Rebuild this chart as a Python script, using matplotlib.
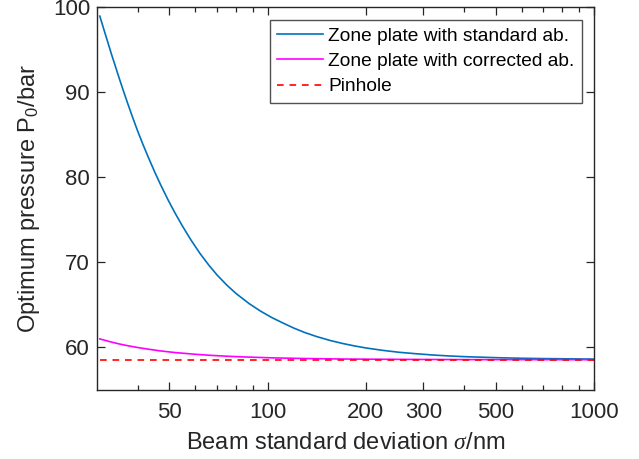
import matplotlib
matplotlib.use("Agg")
import matplotlib.pyplot as plt
from matplotlib.ticker import FixedLocator, FixedFormatter, NullFormatter

plt.rcParams['font.family'] = ['Liberation Sans', 'DejaVu Sans']
plt.rcParams['mathtext.fontset'] = 'custom'
plt.rcParams['mathtext.rm'] = 'Liberation Sans'
plt.rcParams['mathtext.it'] = 'Liberation Serif:italic'

# Beam standard deviation (nm) and optimum pressure (bar)
sigma_std = [30.6, 31.5, 32.3, 33.2, 34.0, 35.0, 36.0, 37.2, 38.5, 40.0, 41.5,
             43.0, 45.0, 47.0, 49.6, 52.0, 54.8, 58.0, 62.0, 66.0, 70.0, 75.0,
             80.0, 87.9, 95.0, 103, 111, 120, 130, 141, 155, 170, 185, 200, 225,
             253, 285, 321, 360, 406, 455, 511, 600, 700, 850, 1000]
p_std = [98.93, 97.34, 95.99, 94.49, 93.27, 91.76, 90.34, 88.74, 87.12, 85.39,
         83.84, 82.42, 80.68, 79.11, 77.29, 75.81, 74.27, 72.72, 71.06, 69.68,
         68.51, 67.32, 66.34, 65.13, 64.28, 63.51, 62.90, 62.29, 61.75, 61.29,
         60.83, 60.46, 60.17, 59.94, 59.66, 59.43, 59.26, 59.11, 59.00, 58.91,
         58.85, 58.79, 58.73, 58.69, 58.66, 58.63]

sigma_cor = [30.6, 33, 35, 37.3, 40, 43, 47, 52, 59.5, 67, 75, 85, 105, 130,
             170, 250, 400, 1000]
p_cor = [61.00, 60.66, 60.42, 60.20, 59.99, 59.80, 59.59, 59.40, 59.21, 59.07,
         58.97, 58.88, 58.77, 58.70, 58.64, 58.60, 58.57, 58.56]

sigma_pin = [30.6, 1000]
p_pin = [58.56, 58.56]

x_major = [50, 100, 200, 300, 500, 1000]
x_major_labels = ['50', '100', '200', '300', '500', '1000']
x_minor = [40, 60, 70, 80, 90, 400, 600, 700, 800, 900]
y_major = [60, 70, 80, 90, 100]

fig = plt.figure(figsize=(6.39, 4.59), dpi=100)
ax = fig.add_axes([97 / 639, 1 - 390 / 459, (594 - 97) / 639, (390 - 7) / 459])

edge = '#262626'
ax.plot(sigma_std, p_std, color='#0072BD', lw=1.2, label='Zone plate with standard ab.')
ax.plot(sigma_cor, p_cor, color='#FF00FF', lw=1.2, label='Zone plate with corrected ab.')
ax.plot(sigma_pin, p_pin, color='#FF0000', lw=1.2, ls=(0, (4, 3.5)), label='Pinhole')

ax.set_xscale('log')
ax.set_xlim(30, 1000)
ax.set_ylim(55, 100)
ax.xaxis.set_major_locator(FixedLocator(x_major))
ax.xaxis.set_major_formatter(FixedFormatter(x_major_labels))
ax.xaxis.set_minor_locator(FixedLocator(x_minor))
ax.xaxis.set_minor_formatter(NullFormatter())
ax.yaxis.set_major_locator(FixedLocator(y_major))

for s in ax.spines.values():
    s.set_color(edge)
    s.set_linewidth(1.0)
ax.tick_params(which='both', direction='in', top=True, right=True,
               colors=edge, labelcolor=edge, labelsize=16, width=0.9)
ax.tick_params(which='major', length=6)
ax.tick_params(which='minor', length=3.5)
ax.tick_params(axis='x', which='major', pad=9)
ax.tick_params(axis='y', which='major', pad=5)

ax.set_xlabel(r'Beam standard deviation $\sigma$/nm', fontsize=17, color=edge, labelpad=6)
ax.set_ylabel(r'Optimum pressure P$_0$/bar', fontsize=17, color=edge, labelpad=8)

leg = ax.legend(loc='upper right', bbox_to_anchor=(582 / 639, 1 - 20 / 459),
                bbox_transform=fig.transFigure, fontsize=13.8, frameon=True,
                fancybox=False, handlelength=2.4, handletextpad=0.25,
                borderpad=0.4, labelspacing=0.4, borderaxespad=0)
leg.get_frame().set_edgecolor(edge)
leg.get_frame().set_linewidth(1.0)
for t in leg.get_texts():
    t.set_color('black')

fig.savefig('out.png', dpi=100)
